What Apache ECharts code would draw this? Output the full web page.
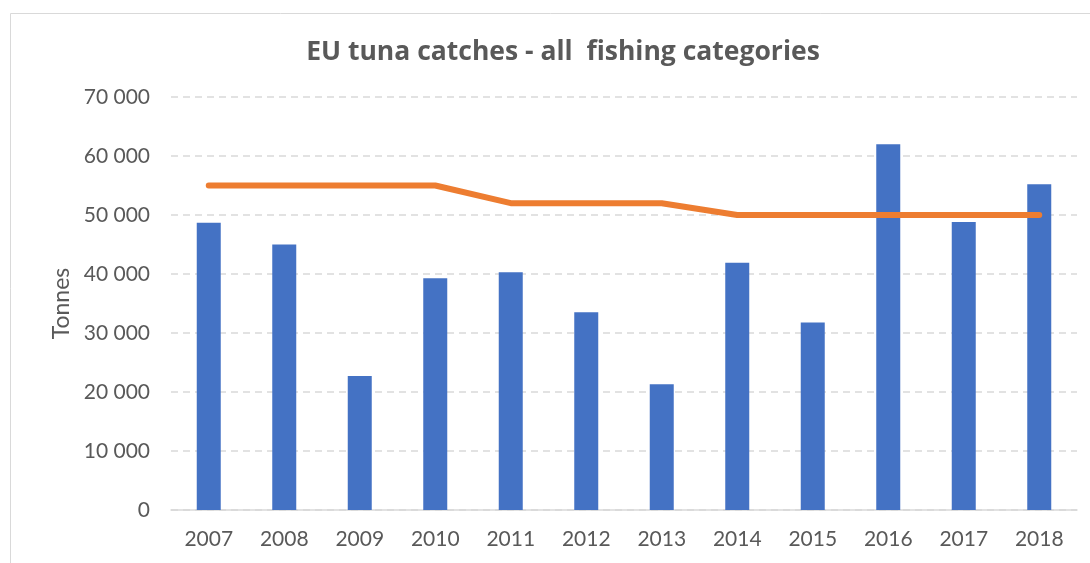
<!DOCTYPE html>
<html>
<head>
<meta charset="utf-8">
<script src="https://cdn.jsdelivr.net/npm/echarts@6/dist/echarts.min.js"></script>
<style>
  html, body { margin: 0; padding: 0; background: #fff; }
  #chart { width: 1090px; height: 563px; }
</style>
</head>
<body>
<div id="chart"></div>
<script>
// 数据
var years = ['2007', '2008', '2009', '2010', '2011', '2012', '2013', '2014', '2015', '2016', '2017', '2018'];
var catches = [48700, 45000, 22700, 39300, 40300, 33500, 21300, 41900, 31800, 62000, 48800, 55200];
var quota = [55000, 55000, 55000, 55000, 52000, 52000, 52000, 50000, 50000, 50000, 50000, 50000];

var chartDom = document.getElementById('chart');
var myChart = echarts.init(chartDom);

var textColor = '#595959';
var fontFamily = 'Lato, "Open Sans", sans-serif';

var option = {
  animation: false,
  // 外框
  graphic: [{
    type: 'rect',
    shape: { x: 10.5, y: 13.5, width: 1100, height: 600 },
    style: { fill: 'none', stroke: '#d9d9d9', lineWidth: 1 },
    silent: true
  }],
  title: {
    text: 'EU tuna catches - all  fishing categories',
    left: 558,
    textAlign: 'center',
    top: 34,
    textStyle: {
      color: textColor,
      fontSize: 26.5,
      fontWeight: 'bold',
      fontFamily: '"Open Sans", sans-serif'
    }
  },
  grid: {
    left: 171,
    right: 13,
    top: 97,
    bottom: 53
  },
  xAxis: {
    type: 'category',
    data: years,
    axisLine: { lineStyle: { color: '#d9d9d9', width: 1.5 } },
    axisTick: { show: false },
    axisLabel: {
      color: textColor,
      fontSize: 21,
      fontFamily: fontFamily,
      margin: 19
    }
  },
  yAxis: {
    type: 'value',
    min: 0,
    max: 70000,
    interval: 10000,
    name: 'Tonnes',
    nameLocation: 'middle',
    nameGap: 98,
    nameTextStyle: { color: textColor, fontSize: 23, fontFamily: fontFamily },
    axisLine: { show: false },
    axisTick: { show: false },
    splitLine: { lineStyle: { color: '#d9d9d9', width: 1.5, type: [7, 5] } },
    axisLabel: {
      color: textColor,
      fontSize: 21,
      fontFamily: fontFamily,
      margin: 21,
      formatter: function (value) {
        return value.toString().replace(/\B(?=(\d{3})+(?!\d))/g, ' ');
      }
    }
  },
  series: [
    {
      name: 'Catches',
      type: 'bar',
      data: catches,
      barWidth: 24,
      itemStyle: { color: '#4472C4' }
    },
    {
      name: 'Quota',
      type: 'line',
      data: quota,
      showSymbol: false,
      symbol: 'none',
      lineStyle: { color: '#ED7D31', width: 6, cap: 'round', join: 'round' },
      z: 3
    }
  ]
};

myChart.setOption(option);

window.addEventListener('resize', function () {
  myChart.resize();
});
</script>
</body>
</html>
